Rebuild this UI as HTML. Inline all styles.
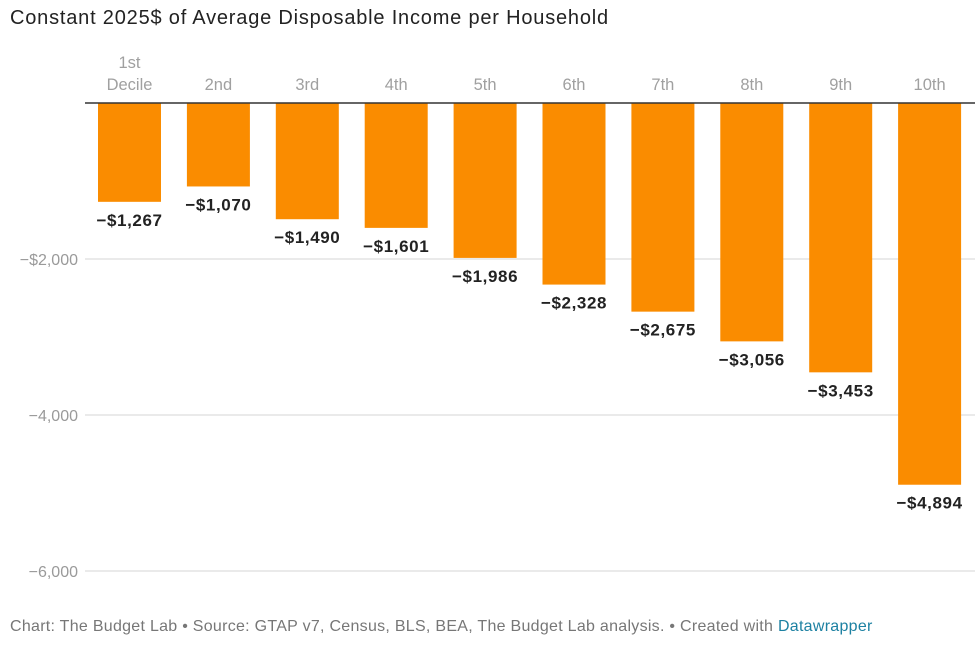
<!DOCTYPE html>
<html><head><meta charset="utf-8"><style>
body{margin:0;background:#fff;font-family:"Liberation Sans",sans-serif;}
#c{position:relative;width:977px;height:659px;overflow:hidden}
.title{position:absolute;left:10px;top:7px;font-size:20px;letter-spacing:0.8px;color:#222;white-space:nowrap}
.foot{position:absolute;left:10px;top:618px;font-size:16px;letter-spacing:0.28px;color:#777;white-space:nowrap}
.foot span{color:#1d81a2}
</style></head><body>
<div id="c">
<div class="title">Constant 2025$ of Average Disposable Income per Household</div>
<svg id="s" width="977" height="659" style="position:absolute;left:0;top:0"></svg>
<div class="foot">Chart: The Budget Lab • Source: GTAP v7, Census, BLS, BEA, The Budget Lab analysis. • Created with <span>Datawrapper</span></div>
</div>
<script>
const categories=["1st|Decile","2nd","3rd","4th","5th","6th","7th","8th","9th","10th"];
const values=[-1267,-1070,-1490,-1601,-1986,-2328,-2675,-3056,-3453,-4894];
const valueLabels=["−$1,267","−$1,070","−$1,490","−$1,601","−$1,986","−$2,328","−$2,675","−$3,056","−$3,453","−$4,894"];
const ticks=[-2000,-4000,-6000];
const tickLabels=["−$2,000","−4,000","−6,000"];
const ns="http://www.w3.org/2000/svg",s=document.getElementById('s');
const y=v=>103-v*0.078;
const xc=i=>129.5+i*88.9;
function mk(t,a,txt){const e=document.createElementNS(ns,t);for(const k in a)e.setAttribute(k,a[k]);if(txt!==undefined)e.textContent=txt;s.appendChild(e);return e;}
ticks.forEach((t,i)=>{
 const g=mk('line',{x1:85,x2:975,y1:y(t),y2:y(t),stroke:'#e3e3e3','stroke-width':1.5});
 
 
 const l=mk('text',{x:78,y:y(t)+6,'text-anchor':'end','font-size':16,fill:'#9a9a9a'},tickLabels[i]);
 
 
});
values.forEach((v,i)=>{
 const r=mk('rect',{x:xc(i)-31.5,y:y(0),width:63,height:y(v)-y(0),fill:'#fa8c00'});
 
 
 const lt=mk('text',{x:xc(i),y:y(v)+24,'text-anchor':'middle','font-size':17,'letter-spacing':0.6,'font-weight':'bold',fill:'#222'},valueLabels[i]);
 
 
 const parts=categories[i].split('|');
 parts.forEach((p,j)=>{
  const c=mk('text',{x:xc(i),y:90-(parts.length-1-j)*22,'text-anchor':'middle','font-size':16.5,fill:'#a0a0a0'},p);
  
  
 });
});
const z=mk('line',{x1:85,x2:975,y1:y(0),y2:y(0),stroke:'#333','stroke-width':1.5});


</script>
</body></html>
